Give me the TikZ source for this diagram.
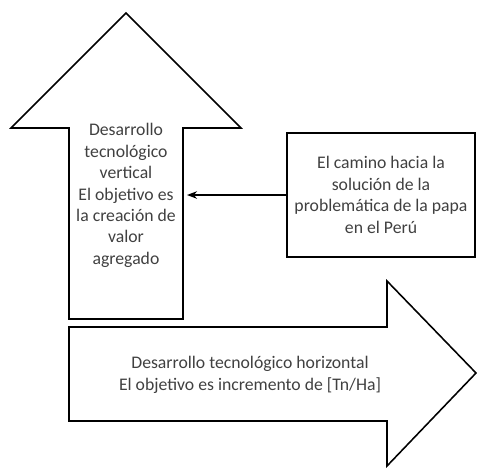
\documentclass[tikz,border=0pt]{standalone}
\usepackage{fontspec}
\setmainfont{Carlito}
\usepackage{tikz}
\usetikzlibrary{arrows.meta, positioning, calc}

\begin{document}
\begin{tikzpicture}[>=Stealth, line width=0.55mm, x=1pt, y=-1pt,
  txt/.style={align=center, text=black!75, font=\fontsize{17.7}{21.4}\selectfont}]

\useasboundingbox (0,0) rectangle (477,467);

% Vertical arrow
\coordinate (vtip) at (126,13);
\draw (vtip) -- (241,128) -- (183,128) -- (183,319) -- (69,319) -- (69,128) -- (11,128) -- cycle;
\coordinate (vshaft) at (187,195);
\node (vtext) [txt] at (126,195.5) {Desarrollo\\tecnológico\\vertical\\El objetivo es\\la creación de\\valor\\agregado};

% Horizontal arrow
\coordinate (htip) at (476,373);
\draw (69,327) -- (387,327) -- (387,281) -- (htip) -- (387,466) -- (387,421) -- (69,421) -- cycle;
\node (htext) [txt] at (250,375) {Desarrollo tecnológico horizontal\\El objetivo es incremento de [Tn/Ha]};

% Box with the way forward
\node (camino) [draw, rectangle, minimum height=124pt, minimum width=188pt, txt] at (381,195) {El camino hacia la\\solución de la\\problemática de la papa\\en el Perú};

\draw[->] (camino.west) -- (vshaft);
\end{tikzpicture}
\end{document}
